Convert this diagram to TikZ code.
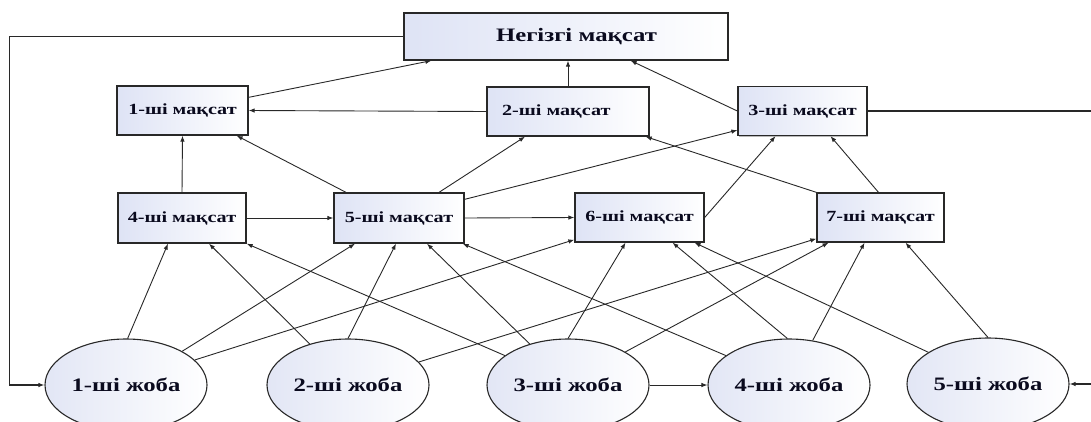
\documentclass[tikz,border=0pt]{standalone}
\usepackage{fontspec}
\setmainfont{Liberation Serif}
\newfontfamily\wideserif[FakeStretch=1.3]{Liberation Serif}
\usetikzlibrary{arrows.meta,shapes.geometric,shadows}

\definecolor{edgegray}{RGB}{40,40,40}
\definecolor{boxtint}{RGB}{222,227,245}
\definecolor{elltint}{RGB}{226,230,245}
\definecolor{ink}{RGB}{10,10,30}
\newcommand\goalfont{\wideserif\fontsize{15.5}{18}\selectfont\bfseries}
\newcommand\bigfont{\wideserif\fontsize{19}{22}\selectfont\bfseries}

\tikzset{
  goal/.style={rectangle, draw=edgegray, line width=1.3pt,
    left color=boxtint, right color=white,
    minimum height=49pt, minimum width=130pt, inner sep=0pt,
    font=\goalfont, text=ink,
    drop shadow={shadow xshift=1.2pt, shadow yshift=-1.2pt, opacity=0.55}},
  project/.style={ellipse, draw=edgegray, line width=1.1pt,
    left color=elltint, right color=white,
    minimum width=162pt, minimum height=92pt, inner sep=0pt,
    font=\bigfont, text=ink},
  link/.style={draw=edgegray, line width=0.9pt, -{Latex[length=6pt,width=4.5pt]}},
  feed/.style={draw=edgegray, line width=1.5pt},
}

\begin{document}
\begin{tikzpicture}[x=1pt, y=-1pt]
  \useasboundingbox[fill=white] (0,0) rectangle (1091,421);
  \coordinate (edgeR) at (1091,0);

  % goals
  \node[goal, minimum width=324pt, minimum height=47pt, font=\bigfont,
        text width=182pt, align=right] (main) at (566,36.5) {Негізгі мақсат};
  \node[goal, minimum width=131pt] (b1) at (182.5,110.5) {1-ші мақсат};
  \node[goal, minimum width=162pt, text width=132pt, align=left] (b2) at (568,111.5) {2-ші мақсат};
  \node[goal, minimum width=129pt] (b3) at (802.5,111) {3-ші мақсат};
  \node[goal, minimum width=128pt, minimum height=50pt] (b4) at (182,218) {4-ші мақсат};
  \node[goal, minimum width=130pt, minimum height=50pt] (b5) at (399,218) {5-ші мақсат};
  \node[goal, minimum width=129pt] (b6) at (639.5,217.5) {6-ші мақсат};
  \node[goal, minimum width=127pt] (b7) at (880.5,217.5) {7-ші мақсат};

  % projects
  \node[project] (e1) at (126,385) {1-ші жоба};
  \node[project] (e2) at (348,385) {2-ші жоба};
  \node[project] (e3) at (568,385) {3-ші жоба};
  \node[project] (e4) at (789,385) {4-ші жоба};
  \node[project] (e5) at (988,384) {5-ші жоба};

  % links between goals
  \draw[link] ([yshift=-12pt]b1.north east) -- ([xshift=28pt]main.south west);
  \draw[link] (b2.north) -- (b2.north |- main.south);
  \draw[link] (b3.west) -- ([xshift=-98pt]main.south east);
  \draw[link] (b2.west) -- (b1.east);
  \draw[link] (b4.north) -- (b1.south);
  \draw[link] ([xshift=-53pt]b5.north) -- ([xshift=-12pt]b1.south east);
  \draw[link] ([xshift=40pt]b5.north) -- ([xshift=-43pt]b2.south);
  \draw[link] ([yshift=-7pt]b5.north east) -- ([yshift=6pt]b3.south west);
  \draw[link] (b7.north west) -- ([xshift=-4pt]b2.south east);
  \draw[link] (b6.east) -- ([xshift=-27pt]b3.south);
  \draw[link] ([xshift=-2pt]b7.north) -- ([xshift=28pt]b3.south);
  \draw[link] (b4.east) -- (b5.west);
  \draw[link] (b5.east) -- (b6.west);

  % links from projects to goals
  \draw[link] (e1.88) -- ([xshift=-14pt]b4.south);
  \draw[link] (e1.31) -- ([xshift=-44pt]b5.south);
  \draw[link] (e1.20) -- ([yshift=3pt]b6.south west);
  \draw[link] (e2.133) -- ([xshift=27pt]b4.south);
  \draw[link] (e2.90) -- ([xshift=-3pt]b5.south);
  \draw[link] (e2.18) -- ([yshift=4pt]b7.south west);
  \draw[link] (e3.155) -- (b4.south east);
  \draw[link] (e3.133) -- ([xshift=28pt]b5.south);
  \draw[link] (e3.90) -- ([xshift=-14pt]b6.south);
  \draw[link] (e3.30) -- ([xshift=-52pt]b7.south);
  \draw[link] (e4.155) -- ([xshift=-2pt]b5.south east);
  \draw[link] (e4.92) -- ([xshift=33pt]b6.south);
  \draw[link] (e4.62) -- ([xshift=-16pt]b7.south);
  \draw[link] (e5.152) -- ([xshift=55pt]b6.south);
  \draw[link] (e5.90) -- ([xshift=25pt]b7.south);
  \draw[link] (e3.east) -- (e4.west);

  % feedback lines
  \draw[feed, -{Latex[length=6pt,width=4.5pt]}] (main.west) -| ([xshift=-35pt]e1.west) -- (e1.west);
  \draw[feed] (b3.east) -- (b3.east -| edgeR);
  \draw[feed, -{Latex[length=6pt,width=4.5pt]}] (e5.east -| edgeR) -- (e5.east);
\end{tikzpicture}
\end{document}
